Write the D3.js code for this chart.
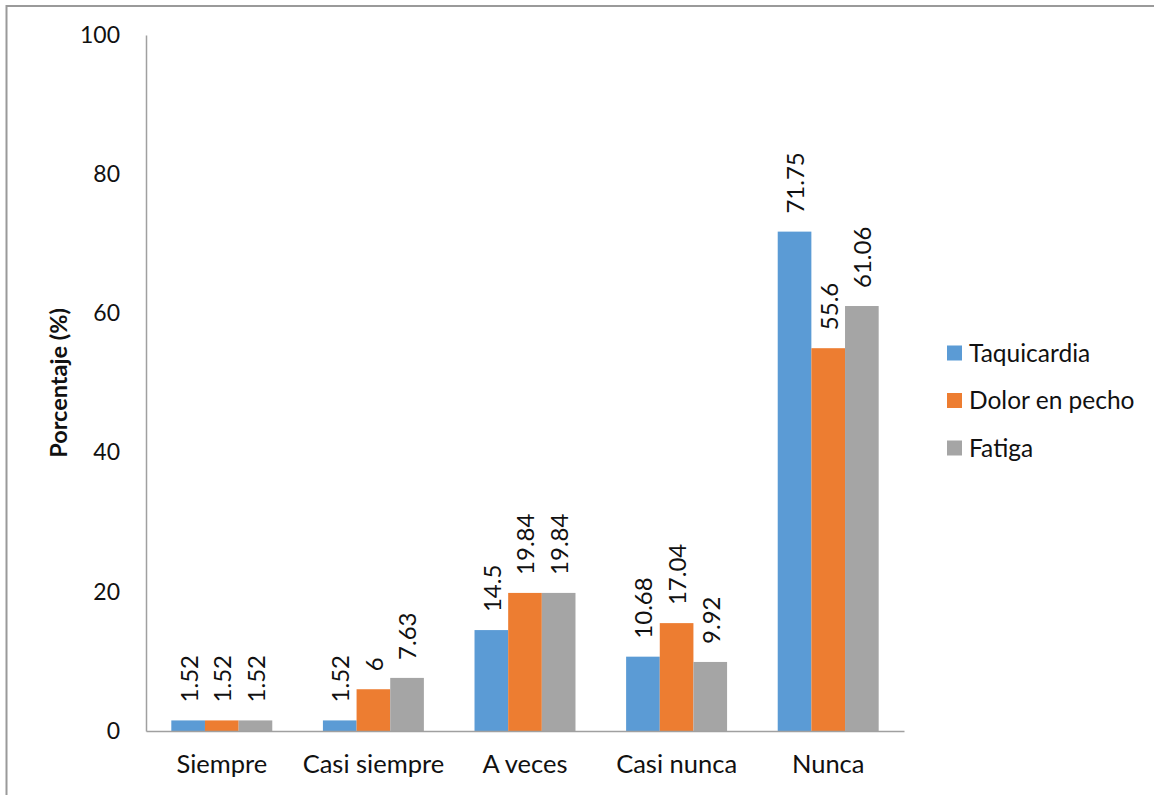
<!DOCTYPE html>
<html>
<head>
<meta charset="utf-8">
<script src="https://cdn.jsdelivr.net/npm/d3@7"></script>
<style>
  html, body { margin: 0; padding: 0; background: #fff; }
  svg { display: block; }
</style>
</head>
<body>
<svg></svg>
<script>
const categories = ['Siempre', 'Casi siempre', 'A veces', 'Casi nunca', 'Nunca'];
const seriesNames = ['Taquicardia', 'Dolor en pecho', 'Fatiga'];
const colors = ['#5B9BD5', '#ED7D31', '#A5A5A5'];

// bar heights as drawn in the picture
const taquicardia = [1.52, 1.52, 14.5, 10.68, 71.75];
const dolorEnPecho = [1.52, 6, 19.84, 15.5, 55];
const fatiga = [1.52, 7.63, 19.84, 9.92, 61.06];

// data labels as printed
const taquicardiaLabels = ['1.52', '1.52', '14.5', '10.68', '71.75'];
const dolorEnPechoLabels = ['1.52', '6', '19.84', '17.04', '55.6'];
const fatigaLabels = ['1.52', '7.63', '19.84', '9.92', '61.06'];

const yTicks = [0, 20, 40, 60, 80, 100];

const series = [taquicardia, dolorEnPecho, fatiga];
const labels = [taquicardiaLabels, dolorEnPechoLabels, fatigaLabels];

const width = 1154;
const height = 795;
const font = 'Lato, "Open Sans", sans-serif';

const plot = { left: 146, right: 904, top: 35, bottom: 731 };

const svg = d3.select('svg').attr('width', width).attr('height', height);

// outer chart frame (right and bottom fall off the picture)
svg.append('rect')
  .attr('x', 6.5)
  .attr('y', 6)
  .attr('width', width + 10)
  .attr('height', height + 10)
  .style('fill', 'none')
  .style('stroke', '#9a9a9a')
  .style('stroke-width', 2);

const x0 = d3.scaleBand()
  .domain(categories)
  .range([plot.left, plot.right])
  .paddingInner(0.334)
  .paddingOuter(0.167);

const x1 = d3.scaleBand()
  .domain(d3.range(seriesNames.length))
  .range([0, x0.bandwidth()]);

const y = d3.scaleLinear()
  .domain([0, 100])
  .range([plot.bottom, plot.top]);

// bars
for (let s = 0; s < series.length; s++) {
  svg.append('g').selectAll('rect')
    .data(series[s])
    .join('rect')
      .attr('x', (d, i) => x0(categories[i]) + x1(s))
      .attr('y', d => y(d))
      .attr('width', x1.bandwidth())
      .attr('height', d => y(0) - y(d))
      .style('fill', colors[s]);
}

// data labels, rotated
for (let s = 0; s < series.length; s++) {
  svg.append('g').selectAll('text')
    .data(series[s])
    .join('text')
      .attr('transform', (d, i) => {
        const cx = x0(categories[i]) + x1(s) + x1.bandwidth() / 2 + 1;
        return 'translate(' + cx + ',' + (y(d) - 18) + ') rotate(-90)';
      })
      .attr('dy', '0.35em')
      .style('font-family', font)
      .style('font-size', '24px')
      .style('fill', '#111')
      .text((d, i) => labels[s][i]);
}

// y axis
const yAxis = svg.append('g')
  .attr('transform', 'translate(' + plot.left + ',0)')
  .call(d3.axisLeft(y).tickValues(yTicks).tickSize(0).tickPadding(26));
yAxis.select('.domain').style('stroke', '#a0a0a0').style('stroke-width', 1.5);
yAxis.selectAll('text')
  .style('font-family', font)
  .style('font-size', '23px')
  .style('fill', '#111');

// x axis
const xAxis = svg.append('g')
  .attr('transform', 'translate(0,' + plot.bottom + ')')
  .call(d3.axisBottom(x0.copy().paddingOuter(0).paddingInner(0).range([plot.left, plot.right])).tickSize(0).tickPadding(24));
xAxis.select('.domain').style('stroke', '#a0a0a0').style('stroke-width', 1.5);
xAxis.selectAll('text')
  .style('font-family', font)
  .style('font-size', '25.5px')
  .style('fill', '#111');

// y axis title
svg.append('text')
  .attr('transform', 'translate(59,' + ((plot.top + plot.bottom) / 2) + ') rotate(-90)')
  .attr('text-anchor', 'middle')
  .attr('dy', '0.35em')
  .style('font-family', font)
  .style('font-size', '23.5px')
  .style('font-weight', 'bold')
  .style('fill', '#111')
  .text('Porcentaje (%)');

// legend
const legend = svg.append('g').selectAll('g')
  .data(seriesNames)
  .join('g')
    .attr('transform', (d, i) => 'translate(947,' + (353 + i * 47.5) + ')');
legend.append('rect')
  .attr('x', 0)
  .attr('y', -7.5)
  .attr('width', 15)
  .attr('height', 15)
  .style('fill', (d, i) => colors[i]);
legend.append('text')
  .attr('x', 22)
  .attr('dy', '0.35em')
  .style('font-family', font)
  .style('font-size', '24.5px')
  .style('fill', '#111')
  .text(d => d);
</script>
</body>
</html>
